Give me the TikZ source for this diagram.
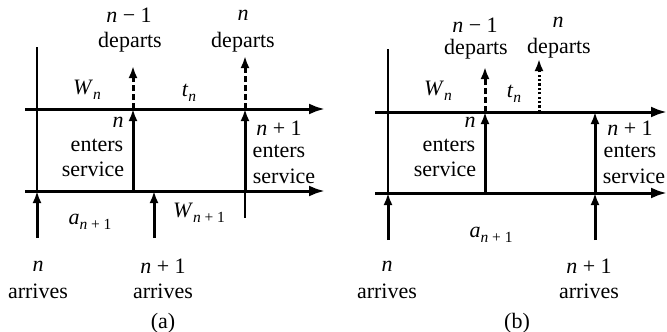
\documentclass[tikz,border=0pt]{standalone}
\usepackage{fontspec}
\setmainfont{Liberation Serif}
\usetikzlibrary{arrows.meta}
\newcommand\vi[1]{\textit{#1}}
\newcommand\sbs[1]{\raisebox{-0.45ex}{\fontsize{15.5}{15.5}\selectfont #1}}
\begin{document}
\begin{tikzpicture}[x=1pt,y=-1pt,
  txt/.style={inner sep=0pt, font=\fontsize{22}{24}\selectfont},
  axisline/.style={line width=3pt, -{Latex[length=16pt,width=11pt]}},
  evarrow/.style={line width=3pt, -{Latex[length=12pt,width=9pt]}},
  dasharrow/.style={evarrow, dash pattern=on 6pt off 3pt},
  dotarrow/.style={evarrow, dash pattern=on 2.2pt off 2.2pt},
  thinline/.style={line width=1.1pt}]
\useasboundingbox (0,0) rectangle (667,332);
% ---------- panel (a)
\coordinate (aUL) at (25,109);  \coordinate (aUR) at (325,109);
\coordinate (aLL) at (25,191);  \coordinate (aLR) at (325,191);
\coordinate (aV0) at (37,47);   \coordinate (aV1) at (37,191);
\coordinate (aE1b) at (133,191); \coordinate (aE1t) at (133,109); \coordinate (aD1) at (133,66);
\coordinate (aE2b) at (245,191); \coordinate (aE2t) at (245,109); \coordinate (aD2) at (245,56);
\coordinate (aT2) at (245,218);
\coordinate (aA1b) at (37,238);  \coordinate (aA1t) at (37,191);
\coordinate (aA2b) at (154,238); \coordinate (aA2t) at (154,191);
\draw[thinline] (aV0) -- (aV1);
\draw[thinline] (aE2b) -- (aT2);
\draw[axisline] (aUL) -- (aUR);
\draw[axisline] (aLL) -- (aLR);
\draw[dasharrow] (aE1t) -- (aD1);
\draw[dasharrow] (aE2t) -- (aD2);
\draw[evarrow] (aE1b) -- (aE1t);
\draw[evarrow] (aE2b) -- (aE2t);
\draw[evarrow] (aA1b) -- (aA1t);
\draw[evarrow] (aA2b) -- (aA2t);
\node[txt] (a1) at (129,15) {\vi{n} − 1};
\node[txt] (a2) at (130,42) {departs};
\node[txt] (a3) at (243,15) {\vi{n}};
\node[txt] (a4) at (243,42) {departs};
\node[txt] (a5) at (87,90) {\vi{W}\sbs{\vi{n}}};
\node[txt] (a6) at (189,93) {\vi{t}\sbs{\vi{n}}};
\node[txt] (a7) at (118,122) {\vi{n}};
\node[txt] (a8) at (97,145) {enters};
\node[txt] (a9) at (93,169) {service};
\node[txt] (a10) at (279,128) {\vi{n} + 1};
\node[txt] (a11) at (279,151) {enters};
\node[txt] (a12) at (284,176) {service};
\node[txt] (a13) at (90,222) {\vi{a}\sbs{\vi{n} + 1}};
\node[txt] (a14) at (199,213) {\vi{W}\sbs{\vi{n} + 1}};
\node[txt] (a15) at (38,266) {\vi{n}};
\node[txt] (a16) at (38,291) {arrives};
\node[txt] (a17) at (163,266) {\vi{n} + 1};
\node[txt] (a18) at (163,291) {arrives};
\node[txt] (a19) at (163,323) {(a)};
% ---------- panel (b)
\coordinate (bUL) at (375,112);  \coordinate (bUR) at (667,112);
\coordinate (bLL) at (375,193);  \coordinate (bLR) at (667,193);
\coordinate (bV0) at (388,49);   \coordinate (bV1) at (388,193);
\coordinate (bE1b) at (485,193); \coordinate (bE1t) at (485,112); \coordinate (bD1) at (485,67);
\coordinate (bDt) at (539,112);  \coordinate (bD2) at (539,59);
\coordinate (bE2b) at (595,193); \coordinate (bE2t) at (595,112);
\coordinate (bA1b) at (388,240); \coordinate (bA1t) at (388,193);
\coordinate (bA2b) at (595,240); \coordinate (bA2t) at (595,193);
\draw[thinline] (bV0) -- (bV1);
\draw[axisline] (bUL) -- (bUR);
\draw[axisline] (bLL) -- (bLR);
\draw[dasharrow] (bE1t) -- (bD1);
\draw[dotarrow] (bDt) -- (bD2);
\draw[evarrow] (bE1b) -- (bE1t);
\draw[evarrow] (bE2b) -- (bE2t);
\draw[evarrow] (bA1b) -- (bA1t);
\draw[evarrow] (bA2b) -- (bA2t);
\node[txt] (b1) at (475,25) {\vi{n} − 1};
\node[txt] (b2) at (476,49) {departs};
\node[txt] (b3) at (558,22) {\vi{n}};
\node[txt] (b4) at (559,48) {departs};
\node[txt] (b5) at (438,91) {\vi{W}\sbs{\vi{n}}};
\node[txt] (b6) at (514,94) {\vi{t}\sbs{\vi{n}}};
\node[txt] (b7) at (470,122) {\vi{n}};
\node[txt] (b8) at (449,145) {enters};
\node[txt] (b9) at (445,169) {service};
\node[txt] (b10) at (630,128) {\vi{n} + 1};
\node[txt] (b11) at (630,151) {enters};
\node[txt] (b12) at (634,176) {service};
\node[txt] (b13) at (491,235) {\vi{a}\sbs{\vi{n} + 1}};
\node[txt] (b15) at (387,266) {\vi{n}};
\node[txt] (b16) at (387,291) {arrives};
\node[txt] (b17) at (589,266) {\vi{n} + 1};
\node[txt] (b18) at (589,291) {arrives};
\node[txt] (b19) at (517,323) {(b)};
\end{tikzpicture}
\end{document}
